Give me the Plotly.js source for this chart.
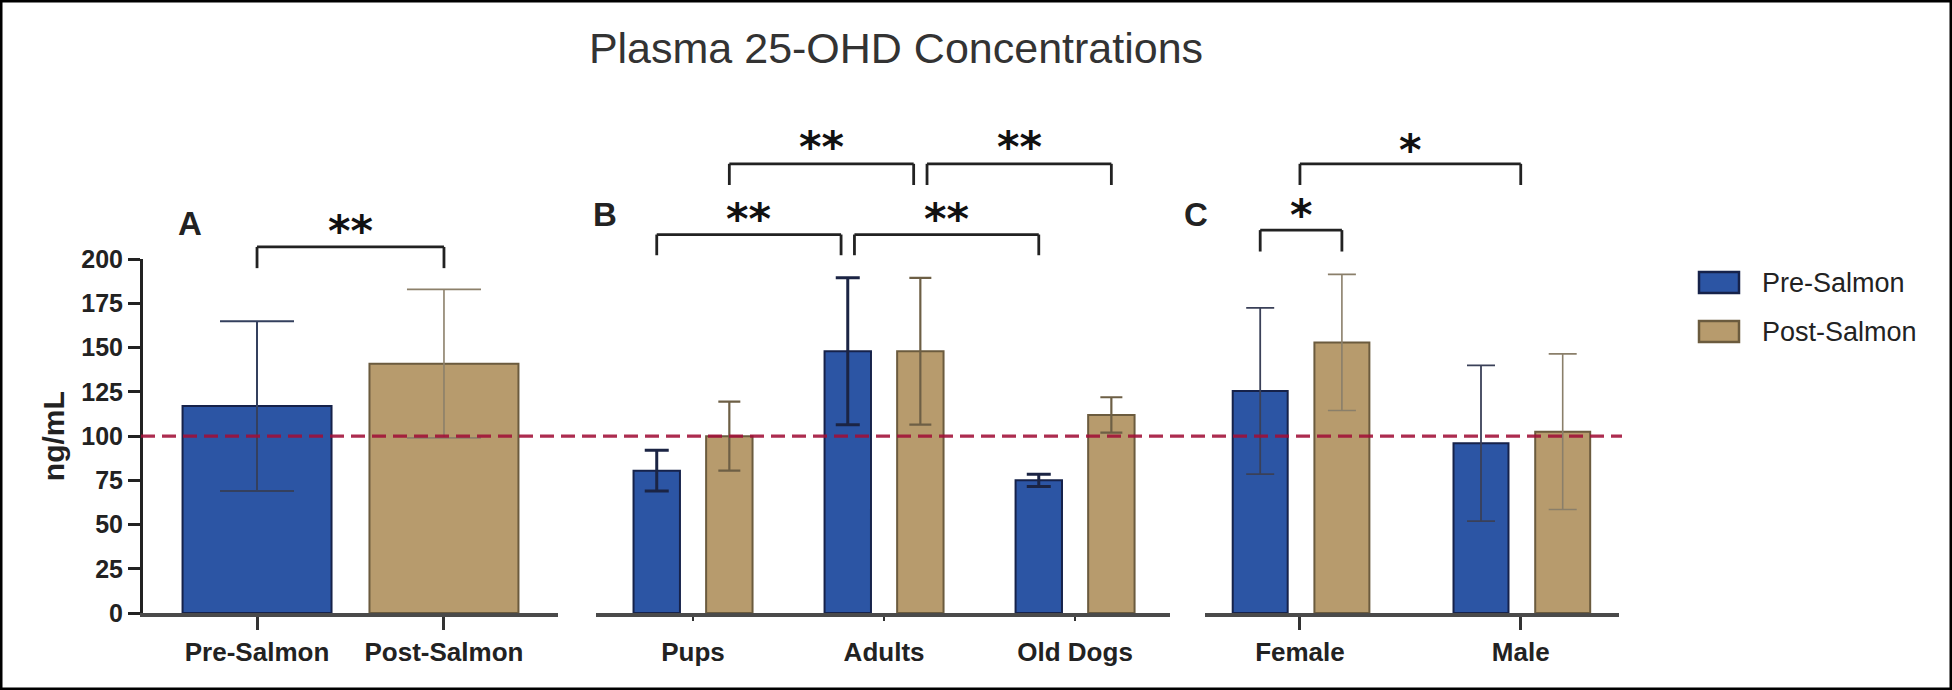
<!DOCTYPE html>
<html><head><meta charset="utf-8">
<script src="https://cdn.plot.ly/plotly-3.0.1.min.js"></script>
<style>html,body{margin:0;padding:0;background:#fff}#chart{width:1952px;height:690px}</style>
</head><body><div id="chart"></div>
<script>
// ---------------- data ----------------
const chartTitle = 'Plasma 25-OHD Concentrations';
const yTitle = 'ng/mL';
const seriesNames = ['Pre-Salmon', 'Post-Salmon'];
const panelLetters = ['A', 'B', 'C'];
const yTickVals = [0, 25, 50, 75, 100, 125, 150, 175, 200];
const refValue = 100;

// Panel A: overall
const catA = ['Pre-Salmon', 'Post-Salmon'];
const valA = [117, 141];
const errA = [48, 42];

// Panel B: age groups
const catB = ['Pups', 'Adults', 'Old Dogs'];
const preB = [80.5, 148, 75];
const preBErr = [11.5, 41.5, 3.5];
const postB = [100, 148, 112];
const postBErr = [19.5, 41.5, 10];

// Panel C: sex
const catC = ['Female', 'Male'];
const preC = [125.5, 96];
const preCErr = [47, 44];
const postC = [153, 102.5];
const postCErr = [38.5, 44];

// significance labels
const sigLabels = ['**', '**', '**', '**', '**', '*', '*'];

// ---------------- styling ----------------
const W = 1952, H = 690;
const px = x => x / W;
const py = y => 1 - y / H;
const yb = py(613), yt = py(259.3);
const yv = v => yb + v / 200 * (yt - yb);   // value level -> paper y

const FONT = 'Liberation Sans, Arial, Helvetica, sans-serif';
const STAR_FONT = 'DejaVu Sans, sans-serif';
const PRE_FILL = '#2c55a4', PRE_LINE = '#16224a';
const POST_FILL = '#b79b6d', POST_LINE = '#6b5b3e';
const TXT = '#222';

function barTrace(x, y, err, xa, isPre, opts) {
  return Object.assign({
    type: 'bar', x: x, y: y, xaxis: xa, yaxis: 'y',
    name: isPre ? seriesNames[0] : seriesNames[1], showlegend: false,
    marker: {color: isPre ? PRE_FILL : POST_FILL, line: {color: isPre ? PRE_LINE : POST_LINE, width: 2}},
    error_y: {type: 'data', array: err, visible: true}
  }, opts);
}

const traces = [
  barTrace([catA[0]], [valA[0]], [errA[0]], 'x', true,
    {width: 0.797, error_y: {type: 'data', array: [errA[0]], color: '#34405e', thickness: 2, width: 37}}),
  barTrace([catA[1]], [valA[1]], [errA[1]], 'x', false,
    {width: 0.797, error_y: {type: 'data', array: [errA[1]], color: '#8c806a', thickness: 1.6, width: 37}}),
  barTrace(catB, preB, preBErr, 'x2', true,
    {width: 0.243, offset: -0.3115, error_y: {type: 'data', array: preBErr, color: '#1b2444', thickness: 3, width: 12}}),
  barTrace(catB, postB, postBErr, 'x2', false,
    {width: 0.243, offset: 0.0685, error_y: {type: 'data', array: postBErr, color: '#6d5f45', thickness: 2.2, width: 11}}),
  barTrace(catC, preC, preCErr, 'x3', true,
    {width: 0.249, offset: -0.3045, error_y: {type: 'data', array: preCErr, color: '#3a4058', thickness: 1.8, width: 14}}),
  barTrace(catC, postC, postCErr, 'x3', false,
    {width: 0.249, offset: 0.0655, error_y: {type: 'data', array: postCErr, color: '#8a7f6a', thickness: 1.6, width: 14}})
];

function xAxis(dom, rng, cats, tl, tw, standoff) {
  const a = {
    domain: dom, range: rng, anchor: 'y', type: 'category',
    categoryorder: 'array', categoryarray: cats,
    showline: true, linecolor: '#4a4a4a', linewidth: 4,
    ticks: 'outside', ticklen: tl, tickwidth: tw, tickcolor: '#333',
    tickfont: {family: FONT, size: 26, color: TXT, weight: 'bold'},
    showgrid: false, zeroline: false, fixedrange: true
  };
  if (standoff) a.ticklabelstandoff = standoff;
  return a;
}

// significance brackets: [xref, x0, x1, topLevel, legLevel, labelLevel]
const bracketGeom = [
  ['x', 0, 1, 207, 195, 221],
  ['x2', -0.19, 0.775, 214, 202.3, 228],
  ['x2', 0.845, 1.81, 214, 202.3, 228],
  ['x2', 0.19, 1.155, 254, 242, 268.5],
  ['x2', 1.225, 2.19, 254, 242, 268.5],
  ['x3', -0.18, 0.19, 216.5, 204.4, 230],
  ['x3', 0, 1, 254, 242, 267]
];

const shapes = [];
const annotations = [];
const BR = {color: '#222', width: 2.8};
bracketGeom.forEach((b, i) => {
  const [xr, x0, x1, top, leg, lab] = b;
  shapes.push({type: 'line', xref: xr, yref: 'paper', x0: x0, x1: x0, y0: yv(leg), y1: yv(top), line: BR});
  shapes.push({type: 'line', xref: xr, yref: 'paper', x0: x0, x1: x1, y0: yv(top), y1: yv(top), line: BR});
  shapes.push({type: 'line', xref: xr, yref: 'paper', x0: x1, x1: x1, y0: yv(top), y1: yv(leg), line: BR});
  annotations.push({xref: xr, yref: 'paper', x: (x0 + x1) / 2, y: yv(lab), text: sigLabels[i],
    showarrow: false, xanchor: 'center', yanchor: 'middle', yshift: -9,
    font: {family: STAR_FONT, size: 43, color: '#111', weight: 'bold'}});
});

// reference dashed line at 100
shapes.push({type: 'line', xref: 'paper', yref: 'y', x0: px(141), x1: px(1622), y0: refValue, y1: refValue,
  line: {color: 'rgba(160,15,55,0.88)', width: 3.4, dash: '14px,7px'}});

// panel letters
const letterPos = [[190, 223], [605, 214], [1196, 214]];
panelLetters.forEach((L, i) => {
  annotations.push({xref: 'paper', yref: 'paper', x: px(letterPos[i][0]), y: py(letterPos[i][1]), text: L,
    showarrow: false, xanchor: 'center', yanchor: 'middle',
    font: {family: FONT, size: 33, color: TXT, weight: 'bold'}});
});

// legend (manual)
const legRows = [[272, 293, PRE_FILL, PRE_LINE], [321, 342, POST_FILL, POST_LINE]];
seriesNames.forEach((n, i) => {
  const r = legRows[i];
  shapes.push({type: 'rect', xref: 'paper', yref: 'paper', x0: px(1699), x1: px(1739), y0: py(r[1]), y1: py(r[0]),
    fillcolor: r[2], line: {color: r[3], width: 2.5}});
  annotations.push({xref: 'paper', yref: 'paper', x: px(1760), y: py((r[0] + r[1]) / 2), text: n,
    showarrow: false, xanchor: 'left', yanchor: 'middle',
    font: {family: FONT, size: 27, color: TXT}});
});

// outer frame
shapes.push({type: 'rect', xref: 'paper', yref: 'paper', x0: 0, x1: 1, y0: 0, y1: 1,
  line: {color: '#000', width: 5}, fillcolor: 'rgba(0,0,0,0)'});

const layout = {
  width: W, height: H,
  margin: {l: 0, r: 0, t: 0, b: 0, pad: 0},
  paper_bgcolor: '#fff', plot_bgcolor: 'rgba(0,0,0,0)',
  showlegend: false, barmode: 'overlay',
  title: {text: chartTitle, x: px(896), xanchor: 'center', y: py(48), yanchor: 'middle',
    font: {family: FONT, size: 43, color: '#333'}},
  xaxis: xAxis([px(143), px(558)], [-0.61, 1.61], catA, 13, 3),
  xaxis2: xAxis([px(596), px(1170)], [-0.508, 2.497], catB, 4, 2, 9),
  xaxis3: xAxis([px(1205), px(1619)], [-0.43, 1.445], catC, 13, 3),
  yaxis: {
    domain: [yb, yt], range: [0, 200], anchor: 'x',
    tickmode: 'array', tickvals: yTickVals, ticktext: yTickVals.map(String),
    ticks: 'outside', ticklen: 12, tickwidth: 3, tickcolor: '#222',
    showline: true, linecolor: '#222', linewidth: 3,
    tickfont: {family: FONT, size: 25, color: TXT, weight: 'bold'},
    title: {text: yTitle, font: {family: FONT, size: 30, color: TXT, weight: 'bold'}, standoff: 8},
    showgrid: false, zeroline: false, fixedrange: true
  },
  shapes: shapes,
  annotations: annotations
};

Plotly.newPlot('chart', traces, layout, {staticPlot: true, displayModeBar: false});
</script>
</body></html>
